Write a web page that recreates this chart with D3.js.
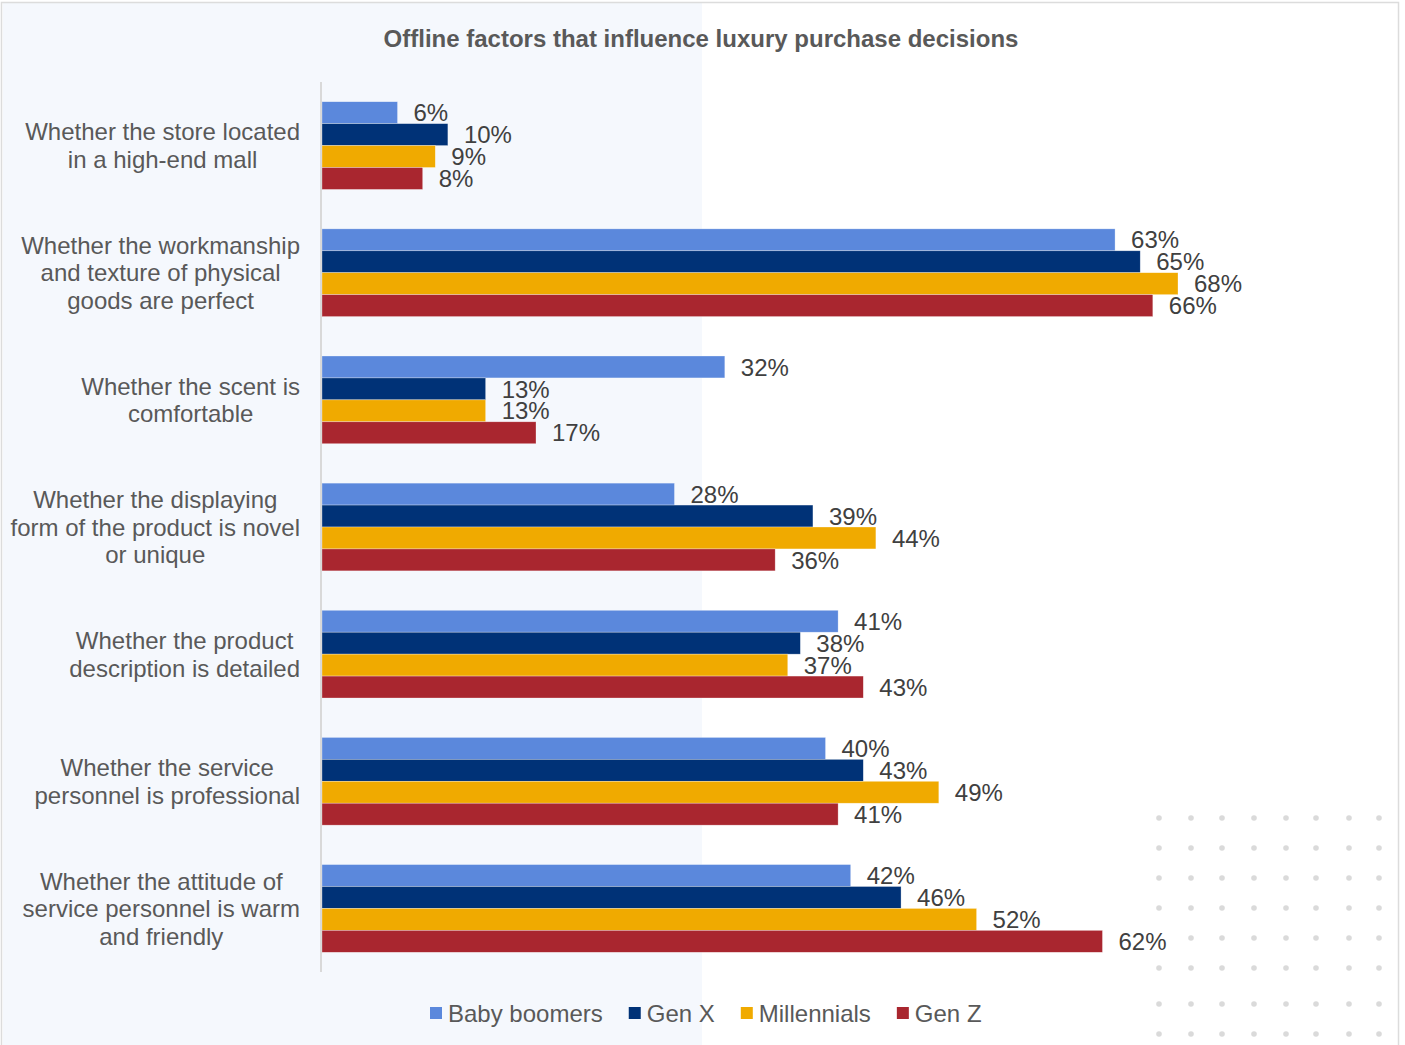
<!DOCTYPE html>
<html><head><meta charset="utf-8">
<script src="https://cdn.jsdelivr.net/npm/d3@7"></script>
<style>body{margin:0;background:#fff;}svg{display:block;font-family:"Liberation Sans",Arial,sans-serif;}</style>
</head><body><svg id="c" width="1405" height="1045"></svg>
<script>
const title = "Offline factors that influence luxury purchase decisions";
const categories = [
  ["Whether the store located","in a high-end mall"],
  ["Whether the workmanship","and texture of physical","goods are perfect"],
  ["Whether the scent is","comfortable"],
  ["Whether the displaying","form of the product is novel","or unique"],
  ["Whether the product","description is detailed"],
  ["Whether the service","personnel is professional"],
  ["Whether the attitude of","service personnel is warm","and friendly"]
];
const seriesNames = ["Baby boomers","Gen X","Millennials","Gen Z"];
const seriesColors = ["#5b88dc","#003277","#f0aa00","#a9262f"];
const babyBoomers = [6,63,32,28,41,40,42];
const genX        = [10,65,13,39,38,43,46];
const millennials = [9,68,13,44,37,49,52];
const genZ        = [8,66,17,36,43,41,62];
const seriesValues = [babyBoomers, genX, millennials, genZ];

const FS = 24;
const svg = d3.select("#c");
// frame & background panel
svg.append("rect").attr("x",3).attr("y",3).attr("width",699).attr("height",1042).attr("fill","#f5f8fd");
svg.append("rect").attr("x",1.5).attr("y",2.5).attr("width",1397).attr("height",1050).attr("fill","none").attr("stroke","#dcdcdc").attr("stroke-width",1.5);

const dotLayer = svg.append("g");

svg.append("text").attr("x",701).attr("y",38).attr("dy","0.36em").attr("text-anchor","middle")
  .attr("font-size",FS).attr("font-weight","bold").attr("fill","#595959").text(title);

const x = d3.scaleLinear().domain([0,68]).range([322,1178]);
const y = d3.scaleBand().domain(d3.range(categories.length)).range([82,972]).paddingInner(0.31).paddingOuter(0.155);
const y1 = d3.scaleBand().domain(d3.range(seriesNames.length)).range([0,y.bandwidth()]);

const labelBoxes = [];
const g = svg.append("g");
categories.forEach((c,i)=>{
  const gg = g.append("g").attr("transform",`translate(0,${y(i)})`);
  seriesValues.forEach((vals,s)=>{
    gg.append("rect").attr("x",x(0)).attr("y",y1(s)).attr("width",x(vals[i])-x(0)).attr("height",y1.bandwidth())
      .attr("fill",seriesColors[s]).attr("stroke","rgba(255,255,255,0.5)").attr("stroke-width",0.6);
  });
  seriesValues.forEach((vals,s)=>{
    const t = gg.append("text").attr("x",x(vals[i])+16).attr("y",y1(s)+y1.bandwidth()/2).attr("dy","0.36em")
      .attr("font-size",FS).attr("fill","#404040").text(vals[i]+"%");
    const b = t.node().getBBox();
    labelBoxes.push({x0:b.x-3,x1:b.x+b.width+3,y0:b.y+y(i),y1:b.y+b.height+y(i)});
  });
});

// decorative dots (hidden where a label sits over them)
const dotXs = [1159,1191,1222,1254,1286,1316,1349,1379];
const dotYs = [818,848,878,908,938,968,1004,1034];
dotYs.forEach(yy=>dotXs.forEach(xx=>{
  if (labelBoxes.some(b=>xx>=b.x0&&xx<=b.x1&&yy>=b.y0&&yy<=b.y1)) return;
  dotLayer.append("circle").attr("cx",xx).attr("cy",yy).attr("r",2.8).attr("fill","#dadada");
}));

// axis line
svg.append("line").attr("x1",321).attr("x2",321).attr("y1",82).attr("y2",972).attr("stroke","#d9d9d9").attr("stroke-width",2);

// category labels: lines centered, block right aligned at 300
categories.forEach((lines,i)=>{
  const cy = y(i)+y.bandwidth()/2;
  const lh = 27.5;
  const t = svg.append("text").attr("font-size",FS).attr("fill","#595959").attr("text-anchor","middle");
  const spans = lines.map((l,k)=>t.append("tspan").attr("y",cy+(k-(lines.length-1)/2)*lh).attr("dy","0.36em").text(l));
  const w = d3.max(spans,s=>s.node().getComputedTextLength());
  spans.forEach(s=>s.attr("x",300-w/2));
});

// legend
const leg = svg.append("g");
let lx = 430;
seriesNames.forEach((n,s)=>{
  leg.append("rect").attr("x",lx).attr("y",1007).attr("width",12).attr("height",12).attr("fill",seriesColors[s]);
  const t = leg.append("text").attr("x",lx+18).attr("y",1013).attr("dy","0.36em").attr("font-size",FS).attr("fill","#595959").text(n);
  lx += 18 + t.node().getComputedTextLength() + 26;
});
</script></body></html>
